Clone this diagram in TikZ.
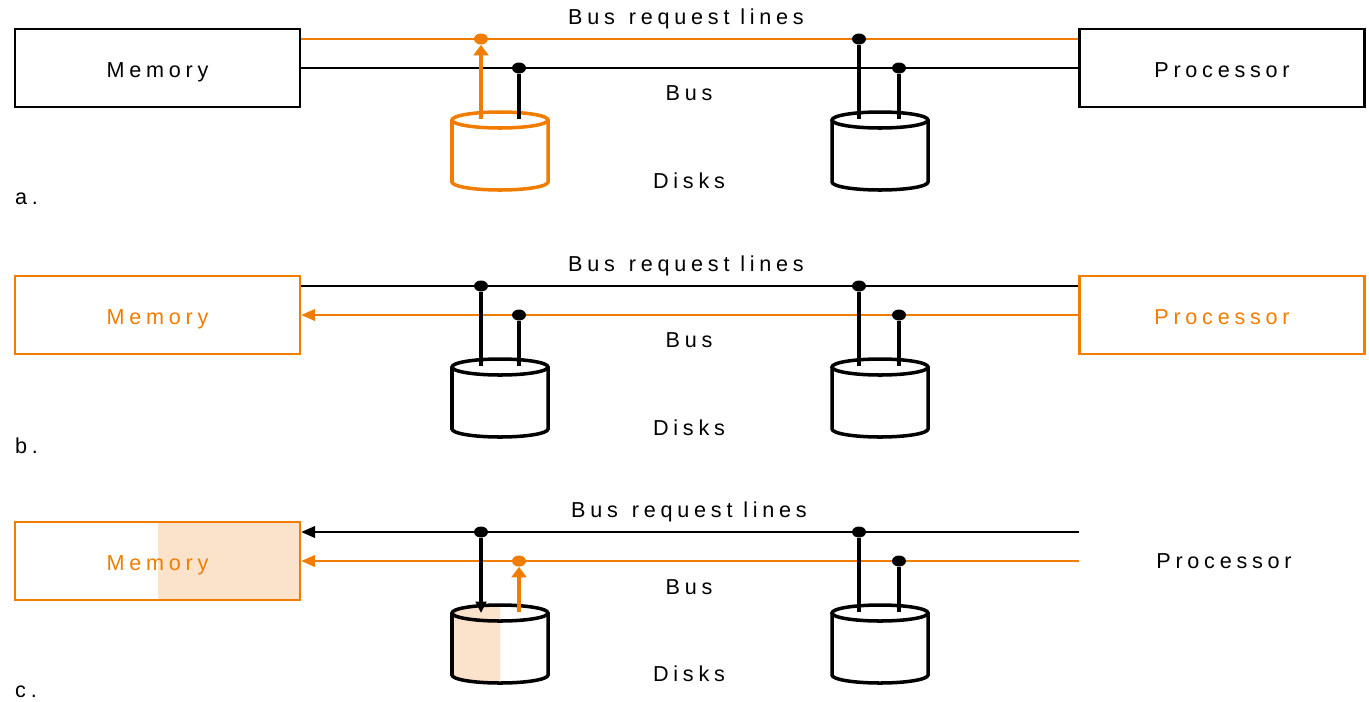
\documentclass[tikz,border=0pt]{standalone}
\usepackage{xcolor}
\usepackage{fontspec}
\setmainfont[LetterSpace=22]{Liberation Sans}
\usepackage{tikz}
\usetikzlibrary{arrows.meta, positioning, shapes.geometric}
\definecolor{busorange}{RGB}{240,125,0}
\definecolor{paleorange}{RGB}{251,226,202}

\tikzset{
  unit box/.style={draw=#1, line width=1.3pt, minimum width=5.7cm, minimum height=1.56cm,
    text=#1, text height=2.1ex, text depth=0pt, font=\fontsize{12.3}{14}\selectfont},
  unit box/.default=black,
  tag/.style={font=\fontsize{12.3}{14}\selectfont, text=#1},
  tag/.default=black,
  bus line/.style={draw=#1, line width=1.6pt},
  bus line/.default=black,
  tap line/.style={draw=#1, line width=2.1pt},
  tap line/.default=black,
  bus dot/.style={ellipse, fill=#1, inner sep=0pt, minimum width=0.28cm, minimum height=0.22cm},
  bus dot/.default=black,
  upto/.style={-{Triangle[length=6pt,width=8.5pt]}},
  intomem/.style={-{Triangle[length=8pt,width=6.5pt]}},
  pics/disk/.style={code={
    \draw[draw=#1, line width=2pt, fill=white] (-48,0) -- (-48,62)
      arc[start angle=180, end angle=0, x radius=48, y radius=8] -- (48,0);
    \draw[draw=#1, line width=2pt] (0,0) ellipse[x radius=48, y radius=8];
  }},
  pics/disk/.default=black
}

\begin{document}
\begin{tikzpicture}[x=0.02cm, y=-0.02cm]
\useasboundingbox (0,0) rectangle (1369,701);

% a. disk asks for the bus
\begin{scope}
  \node[unit box] (memA) at (157.5,68) {Memory};
  \node[unit box] (procA) at (1222,68) {Processor};
  \coordinate (reqA) at (0,39);
  \coordinate (busA) at (0,68);
  \draw[bus line=busorange] (memA.east |- reqA) -- (procA.west |- reqA);
  \draw[bus line] (memA.east |- busA) -- (procA.west |- busA);
  \node[tag] (reqlabA) at (686,19) {Bus\hspace{0.15em} request lines};
  \node[tag] (buslabA) at (689,93) {Bus};
  \node[tag] (disklabA) at (689,181) {Disks};
  \node[tag, anchor=west] (capA) at (9,199) {a.};
  \pic at (500,120) {disk=busorange};
  \pic at (880,120) {disk};
  \coordinate (tapA1) at (481,119);
  \coordinate (tapA2) at (519,119);
  \coordinate (tapA3) at (859,119);
  \coordinate (tapA4) at (899,119);
  \node[bus dot=busorange] (rqA1) at (481,39) {};
  \node[bus dot] (bsA2) at (519,68) {};
  \node[bus dot] (rqA3) at (859,39) {};
  \node[bus dot] (bsA4) at (899,68) {};
  \draw[tap line=busorange, upto] (tapA1) -- (rqA1.south);
  \draw[tap line] (tapA2) -- (bsA2);
  \draw[tap line] (tapA3) -- (rqA3);
  \draw[tap line] (tapA4) -- (bsA4);
\end{scope}

% b. processor talks to memory
\begin{scope}[shift={(0,247)}]
  \node[unit box=busorange] (memB) at (157.5,68) {Memory};
  \node[unit box=busorange] (procB) at (1222,68) {Processor};
  \coordinate (reqB) at (0,39);
  \coordinate (busB) at (0,68);
  \draw[bus line] (memB.east |- reqB) -- (procB.west |- reqB);
  \draw[bus line=busorange, intomem] (procB.west |- busB) -- (memB.east |- busB);
  \node[tag] (reqlabB) at (686,19) {Bus\hspace{0.15em} request lines};
  \node[tag] (buslabB) at (689,93) {Bus};
  \node[tag] (disklabB) at (689,181) {Disks};
  \node[tag, anchor=west] (capB) at (9,199) {b.};
  \pic at (500,120) {disk};
  \pic at (880,120) {disk};
  \coordinate (tapB1) at (481,119);
  \coordinate (tapB2) at (519,119);
  \coordinate (tapB3) at (859,119);
  \coordinate (tapB4) at (899,119);
  \node[bus dot] (rqB1) at (481,39) {};
  \node[bus dot] (bsB2) at (519,68) {};
  \node[bus dot] (rqB3) at (859,39) {};
  \node[bus dot] (bsB4) at (899,68) {};
  \draw[tap line] (tapB1) -- (rqB1);
  \draw[tap line] (tapB2) -- (bsB2);
  \draw[tap line] (tapB3) -- (rqB3);
  \draw[tap line] (tapB4) -- (bsB4);
\end{scope}

% c. disk and memory swap data
\begin{scope}[shift={(0,493)}]
  \node[unit box=busorange] (memC) at (157.5,68) {};
  \fill[paleorange] (memC.north) rectangle (memC.south east);
  \node[unit box=busorange] at (memC) {Memory};
  \node[tag] (procC) at (1224,68) {Processor};
  \coordinate (reqC) at (1079,39);
  \coordinate (busC) at (1079,68);
  \draw[bus line, intomem] (reqC) -- (memC.east |- reqC);
  \draw[bus line=busorange, intomem] (busC) -- (memC.east |- busC);
  \node[tag] (reqlabC) at (689,19) {Bus\hspace{0.15em} request lines};
  \node[tag] (buslabC) at (689,94) {Bus};
  \node[tag] (disklabC) at (689,181) {Disks};
  \node[tag, anchor=west] (capC) at (9,199) {c.};
  \begin{scope}
    \clip (440,100) rectangle (500,200);
    \fill[paleorange] (452,120) rectangle (548,182);
    \fill[paleorange] (500,120) ellipse[x radius=48, y radius=8];
    \fill[paleorange] (500,182) ellipse[x radius=48, y radius=8];
  \end{scope}
  \draw[line width=2pt] (452,120) -- (452,182)
    arc[start angle=180, end angle=0, x radius=48, y radius=8] -- (548,120);
  \draw[line width=2pt] (500,120) ellipse[x radius=48, y radius=8];
  \pic at (880,120) {disk};
  \coordinate (tapC1) at (481,120);
  \coordinate (tapC2) at (519,119);
  \coordinate (tapC3) at (859,119);
  \coordinate (tapC4) at (899,119);
  \node[bus dot] (rqC1) at (481,39) {};
  \node[bus dot=busorange] (bsC2) at (519,68) {};
  \node[bus dot] (rqC3) at (859,39) {};
  \node[bus dot] (bsC4) at (899,68) {};
  \draw[tap line, -{Triangle[length=6.5pt,width=6pt]}] (rqC1) -- (tapC1);
  \draw[tap line=busorange, upto] (tapC2) -- (bsC2.south);
  \draw[tap line] (tapC3) -- (rqC3);
  \draw[tap line] (tapC4) -- (bsC4);
\end{scope}
\end{tikzpicture}
\end{document}
